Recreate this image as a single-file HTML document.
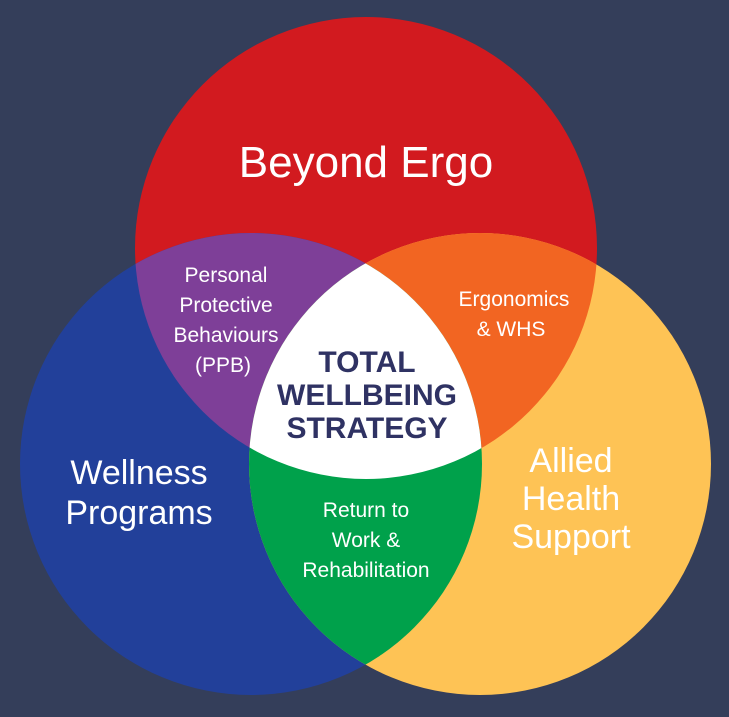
<!DOCTYPE html>
<html><head><meta charset="utf-8"><style>
html,body{margin:0;padding:0;background:#343e5a;}
svg{display:block}
</style></head><body>
<svg width="729" height="717" viewBox="0 0 729 717" xmlns="http://www.w3.org/2000/svg">
<defs>
<clipPath id="cR"><circle cx="366" cy="248" r="231"/></clipPath>
<clipPath id="cB"><circle cx="251" cy="464" r="231"/></clipPath>
<clipPath id="cY"><circle cx="480" cy="464" r="231"/></clipPath>
</defs>
<rect width="729" height="717" fill="#343e5a"/>
<circle cx="366" cy="248" r="231" fill="#d21a1f"/>
<circle cx="251" cy="464" r="231" fill="#22409a"/>
<circle cx="480" cy="464" r="231" fill="#fec355"/>
<g clip-path="url(#cR)"><circle cx="251" cy="464" r="231" fill="#7e3f98"/><circle cx="480" cy="464" r="231" fill="#f26522"/></g>
<g clip-path="url(#cB)"><circle cx="480" cy="464" r="231" fill="#00a14b"/></g>
<g clip-path="url(#cR)"><g clip-path="url(#cB)"><circle cx="480" cy="464" r="231" fill="#ffffff"/></g></g>
<g font-family="Liberation Sans, sans-serif" text-anchor="middle" fill="#fff">
<text x="366" y="177" font-size="44">Beyond Ergo</text>
<g font-size="21">
<text x="226" y="282">Personal</text>
<text x="226" y="312">Protective</text>
<text x="226" y="342">Behaviours</text>
<text x="223" y="372">(PPB)</text>
<text x="514" y="306">Ergonomics</text>
<text x="511" y="336">&amp; WHS</text>
<text x="366" y="517">Return to</text>
<text x="366" y="547">Work &amp;</text>
<text x="366" y="577">Rehabilitation</text>
</g>
<g font-size="34">
<text x="139" y="484">Wellness</text>
<text x="139" y="524">Programs</text>
<text x="571" y="472">Allied</text>
<text x="571" y="510">Health</text>
<text x="571" y="548">Support</text>
</g>
<g font-size="30" font-weight="bold" fill="#2f3263">
<text x="367" y="372">TOTAL</text>
<text x="367" y="405">WELLBEING</text>
<text x="367" y="438">STRATEGY</text>
</g>
</g>
</svg>
</body></html>
